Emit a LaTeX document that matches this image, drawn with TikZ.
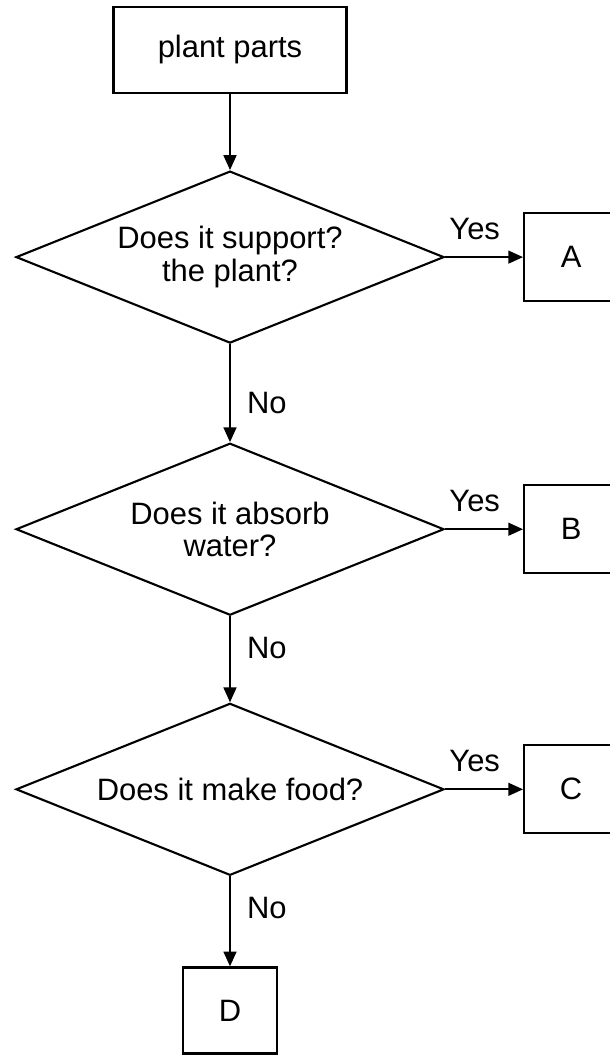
\documentclass[tikz,border=0pt]{standalone}
\usepackage{fontspec}
\setmainfont{Liberation Sans}
\usepackage{tikz}
\usetikzlibrary{positioning,shapes.geometric,arrows.meta}

\begin{document}
\begin{tikzpicture}[auto,node distance=2cm,line width=1.5pt,>={Triangle[length=0.37cm,width=0.32cm]},font=\fontsize{22}{23}\selectfont]
	\tikzstyle{box}=[rectangle,draw,minimum width=2.35cm,minimum height=2.2cm]
	\tikzstyle{question}=[diamond,draw,aspect=2.5,inner sep=0pt,minimum width=10.7cm,minimum height=4.3cm,align=center]
	\tikzstyle{answer}=[inner sep=0.4cm]
	\useasboundingbox (0,0) rectangle (15.25,-26.425);
	\clip (0,0) rectangle (15.25,-26.425);
		\node[box, minimum width=5.825cm, minimum height=2.15cm] (parts) at (5.75,-1.25) {plant parts};
		\node[question, below=1.9cm of parts] (support) {Does it support?\\the plant?};
		\node[box, right=1.95cm of support] (A) {A};
			\draw[->] (parts) edge (support);
			\draw[->] (support) edge node[answer, pos=0.38] {Yes} (A);
		\node[question, below=2.45cm of support] (absorb) {Does it absorb\\water?};
		\node[box, right=1.95cm of absorb] (B) {B};
			\draw[->] (support) edge node[answer, pos=0.6] {No} (absorb);
			\draw[->] (absorb) edge node[answer, pos=0.38] {Yes} (B);
		\node[question, below=2.15cm of absorb] (food) {Does it make food?};
		\node[box, right=1.95cm of food] (C) {C};
			\draw[->] (absorb) edge node[answer, pos=0.37] {No} (food);
			\draw[->] (food) edge node[answer, pos=0.38] {Yes} (C);
		\node[box, below=2.25cm of food, minimum height=2.15cm] (D) {D};
			\draw[->] (food) edge node[answer, pos=0.35] {No} (D);
\end{tikzpicture}
\end{document}
